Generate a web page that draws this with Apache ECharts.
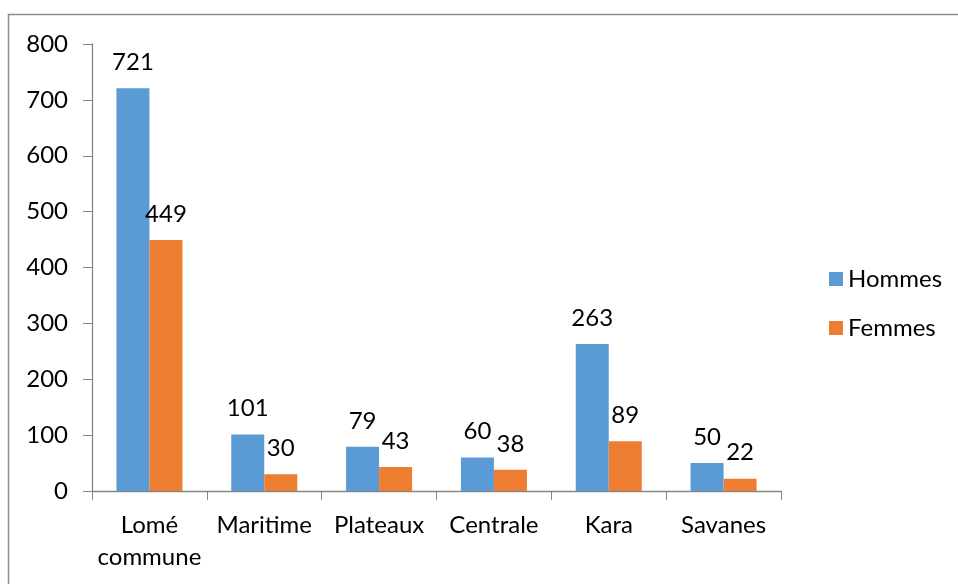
<!DOCTYPE html>
<html><head><meta charset="utf-8">
<script src="https://cdn.jsdelivr.net/npm/echarts@6/dist/echarts.min.js"></script>
<style>html,body{margin:0;padding:0;background:#fff}#c{width:958px;height:584px}</style>
</head><body><div id="c"></div>
<script>
const categories = ['Lomé\ncommune', 'Maritime', 'Plateaux', 'Centrale', 'Kara', 'Savanes'];
const hommes = [721, 101, 79, 60, 263, 50];
const femmes = [449, 30, 43, 38, 89, 22];
const yTicks = [0, 100, 200, 300, 400, 500, 600, 700, 800];

const FONT = 'Lato, "Open Sans", sans-serif';
const FS = 24;
const chart = echarts.init(document.getElementById('c'), null, {renderer: 'canvas'});
const labelStyle = {show: true, position: 'top', distance: 14, fontSize: FS, color: '#000', fontFamily: FONT};
chart.setOption({
  animation: false,
  graphic: [{type: 'rect', shape: {x: 8.5, y: 14.5, width: 1200, height: 1200}, style: {fill: 'none', stroke: '#8c8c8c', lineWidth: 1.5}, silent: true}],
  grid: {left: 92, right: 177, top: 44, bottom: 93},
  legend: {
    orient: 'vertical', left: 824, top: 262, itemWidth: 14, itemHeight: 14, itemGap: 25,
    textStyle: {fontSize: FS, fontFamily: FONT, color: '#000'},
    icon: 'rect',
    data: ['Hommes', 'Femmes']
  },
  xAxis: {
    type: 'category', data: categories,
    axisLine: {lineStyle: {color: '#868686', width: 1.3}},
    axisTick: {show: true, length: 9, alignWithLabel: false, lineStyle: {color: '#868686'}},
    axisLabel: {fontSize: FS, fontFamily: FONT, color: '#000', margin: 18, lineHeight: 32, interval: 0}
  },
  yAxis: {
    type: 'value', min: yTicks[0], max: yTicks[yTicks.length - 1], interval: 100,
    axisLine: {show: true, lineStyle: {color: '#868686', width: 1.3}},
    axisTick: {show: true, length: 9, lineStyle: {color: '#868686'}},
    splitLine: {show: false},
    axisLabel: {fontSize: FS, fontFamily: FONT, color: '#000', margin: 24}
  },
  series: [
    {name: 'Hommes', type: 'bar', data: hommes, barWidth: 33, barGap: '0%', itemStyle: {color: '#5B9BD5'}, label: labelStyle},
    {name: 'Femmes', type: 'bar', data: femmes, barWidth: 33, itemStyle: {color: '#ED7D31'}, label: labelStyle}
  ]
});
</script></body></html>
